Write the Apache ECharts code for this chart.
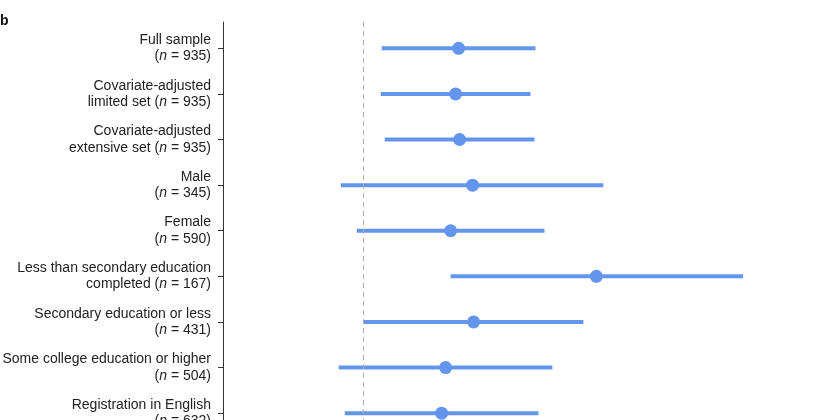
<!DOCTYPE html>
<html>
<head>
<meta charset="utf-8">
<script src="https://cdn.jsdelivr.net/npm/echarts@6/dist/echarts.min.js"></script>
<style>html,body{margin:0;padding:0;background:#fff}#c{width:840px;height:420px}</style>
</head>
<body>
<div id="c"></div>
<script>
var rowLabels = [
  ['Full sample', '(', ' = 935)'],
  ['Covariate-adjusted', 'limited set (', ' = 935)'],
  ['Covariate-adjusted', 'extensive set (', ' = 935)'],
  ['Male', '(', ' = 345)'],
  ['Female', '(', ' = 590)'],
  ['Less than secondary education', 'completed (', ' = 167)'],
  ['Secondary education or less', '(', ' = 431)'],
  ['Some college education or higher', '(', ' = 504)'],
  ['Registration in English', '(', ' = 632)']
];
var estimates = [9.6, 9.3, 9.7, 11.0, 8.8, 23.4, 11.1, 8.3, 7.9];
var lowers    = [1.9, 1.8, 2.2, -2.2, -0.6, 8.8, 0.1, -2.4, -1.8];
var uppers    = [17.3, 16.8, 17.2, 24.1, 18.2, 38.1, 22.1, 19.0, 17.6];
var rowIdx = rowLabels.map(function(_, i){ return i; });

var blue = '#6495ED';
var font = 'Liberation Sans, Arial, sans-serif';
var chart = echarts.init(document.getElementById('c'), null, {renderer: 'canvas', width: 840, height: 420});
chart.setOption({
  animation: false,
  title: {
    text: 'b', left: 0, top: 14, padding: 0,
    textStyle: {fontFamily: font, fontWeight: 'bold', fontSize: 14, color: '#111'}
  },
  grid: {left: 223, right: 38, top: 22, bottom: 0, containLabel: false, outerBoundsMode: 'none'},
  xAxis: {
    type: 'value', min: -14, max: 44, show: false
  },
  yAxis: {
    type: 'value', inverse: true, min: -0.577, max: 8.15,
    axisLine: {show: true, onZero: false, lineStyle: {color: '#333', width: 1}},
    splitLine: {show: false},
    axisTick: {show: true, length: 5, lineStyle: {color: '#333'}, customValues: rowIdx},
    axisLabel: {
      customValues: rowIdx,
      margin: 12,
      fontFamily: font,
      fontSize: 14,
      color: '#222',
      lineHeight: 16.5,
      align: 'right',
      formatter: function (v) {
        var l = rowLabels[Math.round(v)];
        if (!l) return '';
        return '{t|' + l[0] + '}\n{t|' + l[1] + '}{i|n}{t|' + l[2] + '}';
      },
      rich: {
        t: {fontFamily: font, fontSize: 14, color: '#222', lineHeight: 16.5},
        i: {fontFamily: font, fontSize: 14, color: '#222', fontStyle: 'italic', lineHeight: 16.5}
      }
    }
  },
  series: [
    {
      type: 'custom',
      data: rowIdx.map(function(i){ return [lowers[i], uppers[i], i]; }),
      renderItem: function (params, api) {
        var p1 = api.coord([api.value(0), api.value(2)]);
        var p2 = api.coord([api.value(1), api.value(2)]);
        return {
          type: 'line',
          shape: {x1: p1[0], y1: p1[1], x2: p2[0], y2: p2[1]},
          style: {stroke: blue, lineWidth: 4}
        };
      },
      encode: {x: [0, 1], y: 2},
      markLine: {
        silent: true, symbol: 'none', label: {show: false},
        lineStyle: {color: '#b0b0b0', type: [5, 4], width: 1},
        data: [{xAxis: 0}]
      }
    },
    {
      type: 'scatter',
      symbol: 'circle',
      symbolSize: 13,
      itemStyle: {color: blue, opacity: 1},
      data: rowIdx.map(function(i){ return [estimates[i], i]; }),
      z: 3
    }
  ]
});
</script>
</body>
</html>
